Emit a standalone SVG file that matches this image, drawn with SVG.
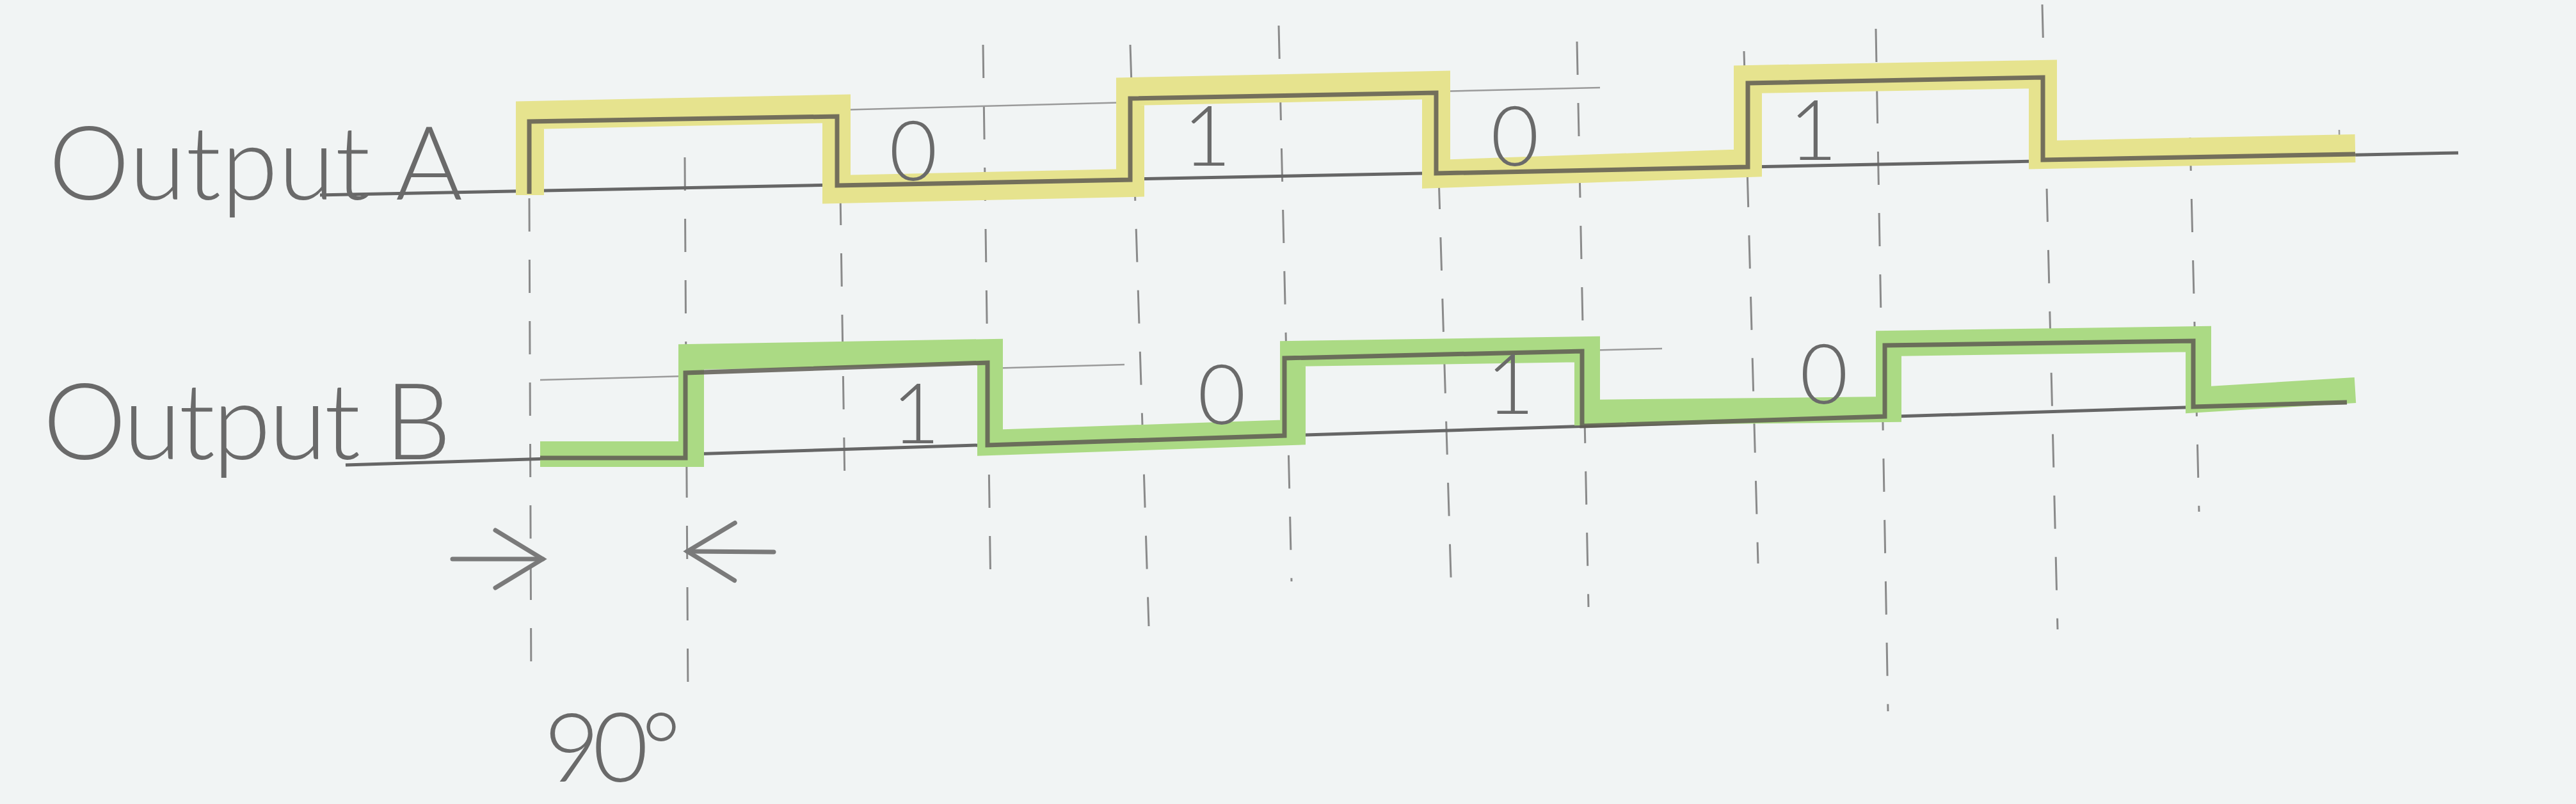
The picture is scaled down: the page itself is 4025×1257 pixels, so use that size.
<svg xmlns="http://www.w3.org/2000/svg" width="4025" height="1257" viewBox="0 0 4025 1257">
  <style>
    .guide { stroke: #8a8a8a; stroke-width: 3; fill: none; stroke-dasharray: 52 44; }
    .thin { stroke: #9a9a9a; stroke-width: 2.5; fill: none; }
    .axis { stroke: #666; stroke-width: 5; fill: none; }
    .pencil { stroke: #5e5b52; stroke-width: 7; fill: none; stroke-linejoin: miter; opacity: 0.85; }
    .hlA { stroke: #e6e38e; stroke-width: 44; fill: none; stroke-linejoin: miter; }
    .hlB { stroke: #abda84; stroke-width: 40; fill: none; stroke-linejoin: miter; }
    .lbl { font-family: Lato, "Liberation Sans", sans-serif; font-weight: 300; fill: #6a6a6a; }
    .dig { font-family: Lato, "Liberation Sans", sans-serif; font-weight: 300; fill: #6a6a6a; font-size: 130px; text-anchor: middle; }
    .arrow { stroke: #7a7a7a; stroke-width: 7; fill: none; stroke-linecap: round; }
  </style>
  <defs>
    <marker id="head" markerUnits="userSpaceOnUse" markerWidth="100" markerHeight="110" viewBox="0 0 100 110" refX="92" refY="55" orient="auto">
      <path d="M18,10 L92,55 L18,100" stroke="#7a7a7a" stroke-width="7" fill="none" stroke-linecap="round"/>
    </marker>
  </defs>
  <rect x="0" y="0" width="4025" height="1257" fill="#f1f4f4"/>

  <g id="guides">
    <line class="guide" x1="827" y1="310" x2="830" y2="1078"/>
    <line class="guide" x1="1070" y1="246" x2="1075" y2="1090"/>
    <line class="guide" x1="1313" y1="300" x2="1320" y2="760"/>
    <line class="guide" x1="1536" y1="70" x2="1548" y2="931"/>
    <line class="guide" x1="1766" y1="70" x2="1795" y2="979"/>
    <line class="guide" x1="1998" y1="40" x2="2018" y2="909"/>
    <line class="guide" x1="2248" y1="275" x2="2268" y2="934"/>
    <line class="guide" x1="2464" y1="65" x2="2482" y2="949"/>
    <line class="guide" x1="2725" y1="80" x2="2747" y2="881"/>
    <line class="guide" x1="2931" y1="45" x2="2950" y2="1112"/>
    <line class="guide" x1="3191" y1="7" x2="3215" y2="984"/>
    <line class="guide" x1="3422" y1="215" x2="3436" y2="800"/>
    <line class="thin" x1="3655" y1="203" x2="3656" y2="245"/>
  </g>

  <g id="output-a">
    <line class="axis" x1="500" y1="305" x2="3841" y2="239"/>
    <line class="thin" x1="1308" y1="172" x2="1766" y2="160"/>
    <line class="thin" x1="2244" y1="143" x2="2500" y2="137"/>
    <path class="hlA" d="M828,305 V180 L1307,170 V296 L1766,286 V143 L2244,133 V272 L2731,255 V124 L3192,116 V242 L3680,232"/>
    <path class="pencil" d="M827,303 V190 L1308,182 V290 L1766,281 V154 L2244,145 V271 L2731,261 V130 L3192,121 V250 L3680,241"/>
    <text class="lbl" x="76" y="312" font-size="160" textLength="647" lengthAdjust="spacing">Output A</text>
    <text class="dig" x="1427" y="282">0</text>
    <text class="dig" x="1886" y="259">1</text>
    <text class="dig" x="2367" y="259">0</text>
    <text class="dig" x="2833" y="250">1</text>
  </g>

  <g id="output-b">
    <line class="axis" x1="540" y1="727" x2="3667" y2="629"/>
    <line class="thin" x1="844" y1="594" x2="1071" y2="588"/>
    <line class="thin" x1="1543" y1="576" x2="1757" y2="570"/>
    <line class="thin" x1="2472" y1="548" x2="2597" y2="545"/>
    <path class="hlB" d="M844,710 H1080 V558 L1547,550 V692 L2020,676 V553 L2480,546 V645 L2951,640 V537 L3435,530 V625 L3680,610"/>
    <path class="pencil" d="M844,716 H1071 V583 L1543,567 V696 L2007,681 V560 L2472,549 V666 L2945,651 V540 L3427,533 V636 L3667,629"/>
    <text class="lbl" x="67" y="718" font-size="165" textLength="638" lengthAdjust="spacing">Output B</text>
    <text class="dig" x="1431" y="693">1</text>
    <text class="dig" x="1909" y="663">0</text>
    <text class="dig" x="2360" y="647">1</text>
    <text class="dig" x="2850" y="631">0</text>
  </g>

  <g id="connectors">
    <line class="arrow" x1="707" y1="874" x2="848" y2="874" marker-end="url(#head)"/>
    <line class="arrow" x1="1209" y1="863" x2="1074" y2="862" marker-end="url(#head)"/>
  </g>

  <g id="phase-label">
    <text class="lbl" x="850" y="1222" font-size="150" textLength="214" lengthAdjust="spacing">90°</text>
  </g>
</svg>
